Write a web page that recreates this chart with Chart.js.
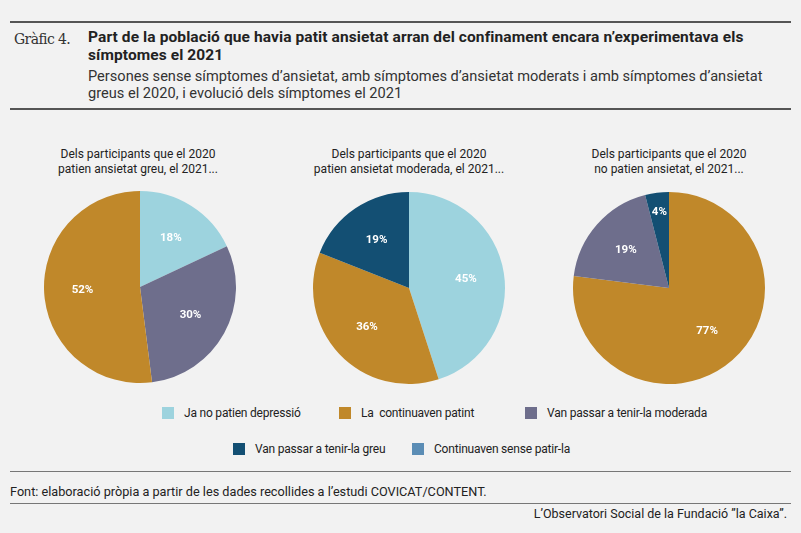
<!DOCTYPE html>
<html><head><meta charset="utf-8">
<script src="https://cdn.jsdelivr.net/npm/chart.js@4"></script>
<style>
body{margin:0;background:#f2f2f2;width:801px;height:533px;position:relative;overflow:hidden;font-family:Roboto,sans-serif;color:#222}
.abs{position:absolute}
.hr{position:absolute;left:10px;width:781px;background:#555}
.pt{position:absolute;width:260px;text-align:center;font-size:12px;line-height:15px;letter-spacing:0}
canvas{position:absolute}
.lg{position:absolute;font-size:12px;display:flex;align-items:center;letter-spacing:-0.2px;white-space:pre}
.lg span{display:inline-block;width:12px;height:12px;margin-right:10px}
</style></head><body>
<div class="hr" style="top:21px;height:2px"></div>
<div class="abs" style="left:14px;top:31px;font-family:'DejaVu Serif',serif;font-size:14px;color:#333;letter-spacing:-0.6px">Gràfic 4.</div>
<div class="abs" style="left:88px;top:28px;width:690px;font-weight:bold;font-size:15.5px;line-height:18px;letter-spacing:0.1px">Part de la població que havia patit ansietat arran del confinament encara n’experimentava els símptomes el 2021</div>
<div class="abs" style="left:88px;top:68px;width:700px;font-size:14.6px;line-height:17px;color:#333;letter-spacing:0">Persones sense símptomes d’ansietat, amb símptomes d’ansietat moderats i amb símptomes d’ansietat greus el 2020, i evolució dels símptomes el 2021</div>
<div class="hr" style="top:108px;height:2px"></div>
<div class="pt" style="left:8px;top:147px">Dels participants que el 2020<br>patien ansietat greu, el 2021...</div>
<div class="pt" style="left:279px;top:147px">Dels participants que el 2020<br>patien ansietat moderada, el 2021...</div>
<div class="pt" style="left:539px;top:147px">Dels participants que el 2020<br>no patien ansietat, el 2021...</div>
<canvas id="c0" class="c" style="left:41px;top:188px" width="198" height="198"></canvas>
<canvas id="c1" class="c" style="left:310px;top:189px" width="198" height="198"></canvas>
<canvas id="c2" class="c" style="left:570px;top:189px" width="198" height="198"></canvas>
<div id="legend"></div>
<div class="hr" style="top:471px;height:1px;background:#777"></div>
<div class="abs" style="left:10px;top:484px;font-size:12.7px;letter-spacing:0">Font: elaboració pròpia a partir de les dades recollides a l’estudi COVICAT/CONTENT.</div>
<div class="hr" style="top:503px;height:1px;background:#777"></div>
<div class="abs" style="right:14px;top:506px;font-size:12.5px;letter-spacing:0">L’Observatori Social de la Fundació ”la Caixa”.</div>
<script>
const categories=["Ja no patien depressió","La  continuaven patint","Van passar a tenir-la moderada","Van passar a tenir-la greu","Continuaven sense patir-la"];
const colors=["#9dd3de","#c0882a","#6e6e8c","#134f73","#5b8db5"];
const pie1Labels=["Ja no patien depressió","Van passar a tenir-la moderada","La  continuaven patint"];
const pie1Values=[18,30,52];
const pie2Labels=["Ja no patien depressió","La  continuaven patint","Van passar a tenir-la greu"];
const pie2Values=[45,36,19];
const pie3Labels=["La  continuaven patint","Van passar a tenir-la moderada","Van passar a tenir-la greu"];
const pie3Values=[77,19,4];
const pies=[[pie1Labels,pie1Values],[pie2Labels,pie2Values],[pie3Labels,pie3Values]];
const lbl={id:'lbl',afterDatasetsDraw(ch){const ctx=ch.ctx;const m=ch.getDatasetMeta(0);ctx.save();ctx.fillStyle='#fff';ctx.font='bold 11.5px Roboto, sans-serif';ctx.textAlign='center';ctx.textBaseline='middle';
m.data.forEach((a,i)=>{const v=ch.data.datasets[0].data[i];const r=v<6?a.outerRadius*0.8:a.outerRadius*0.6;const ang=(a.startAngle+a.endAngle)/2;ctx.fillText(v+'%',a.x+Math.cos(ang)*r,a.y+Math.sin(ang)*r);});ctx.restore();}};
pies.forEach((p,k)=>{new Chart(document.getElementById('c'+k),{type:'pie',data:{labels:p[0],datasets:[{data:p[1],backgroundColor:p[0].map(l=>colors[categories.indexOf(l)]),borderWidth:0}]},
options:{responsive:false,animation:false,layout:{padding:3},plugins:{legend:{display:false},tooltip:{enabled:false}}},plugins:[lbl]});});
const pos=[[162,406],[339,406],[525,406],[233,442],[412,442]];
const lg=document.getElementById('legend');
categories.forEach((c,i)=>{const d=document.createElement('div');d.className='lg';d.style.left=pos[i][0]+'px';d.style.top=pos[i][1]+'px';d.innerHTML='<span style="background:'+colors[i]+'"></span>'+c;lg.appendChild(d);});
</script></body></html>
